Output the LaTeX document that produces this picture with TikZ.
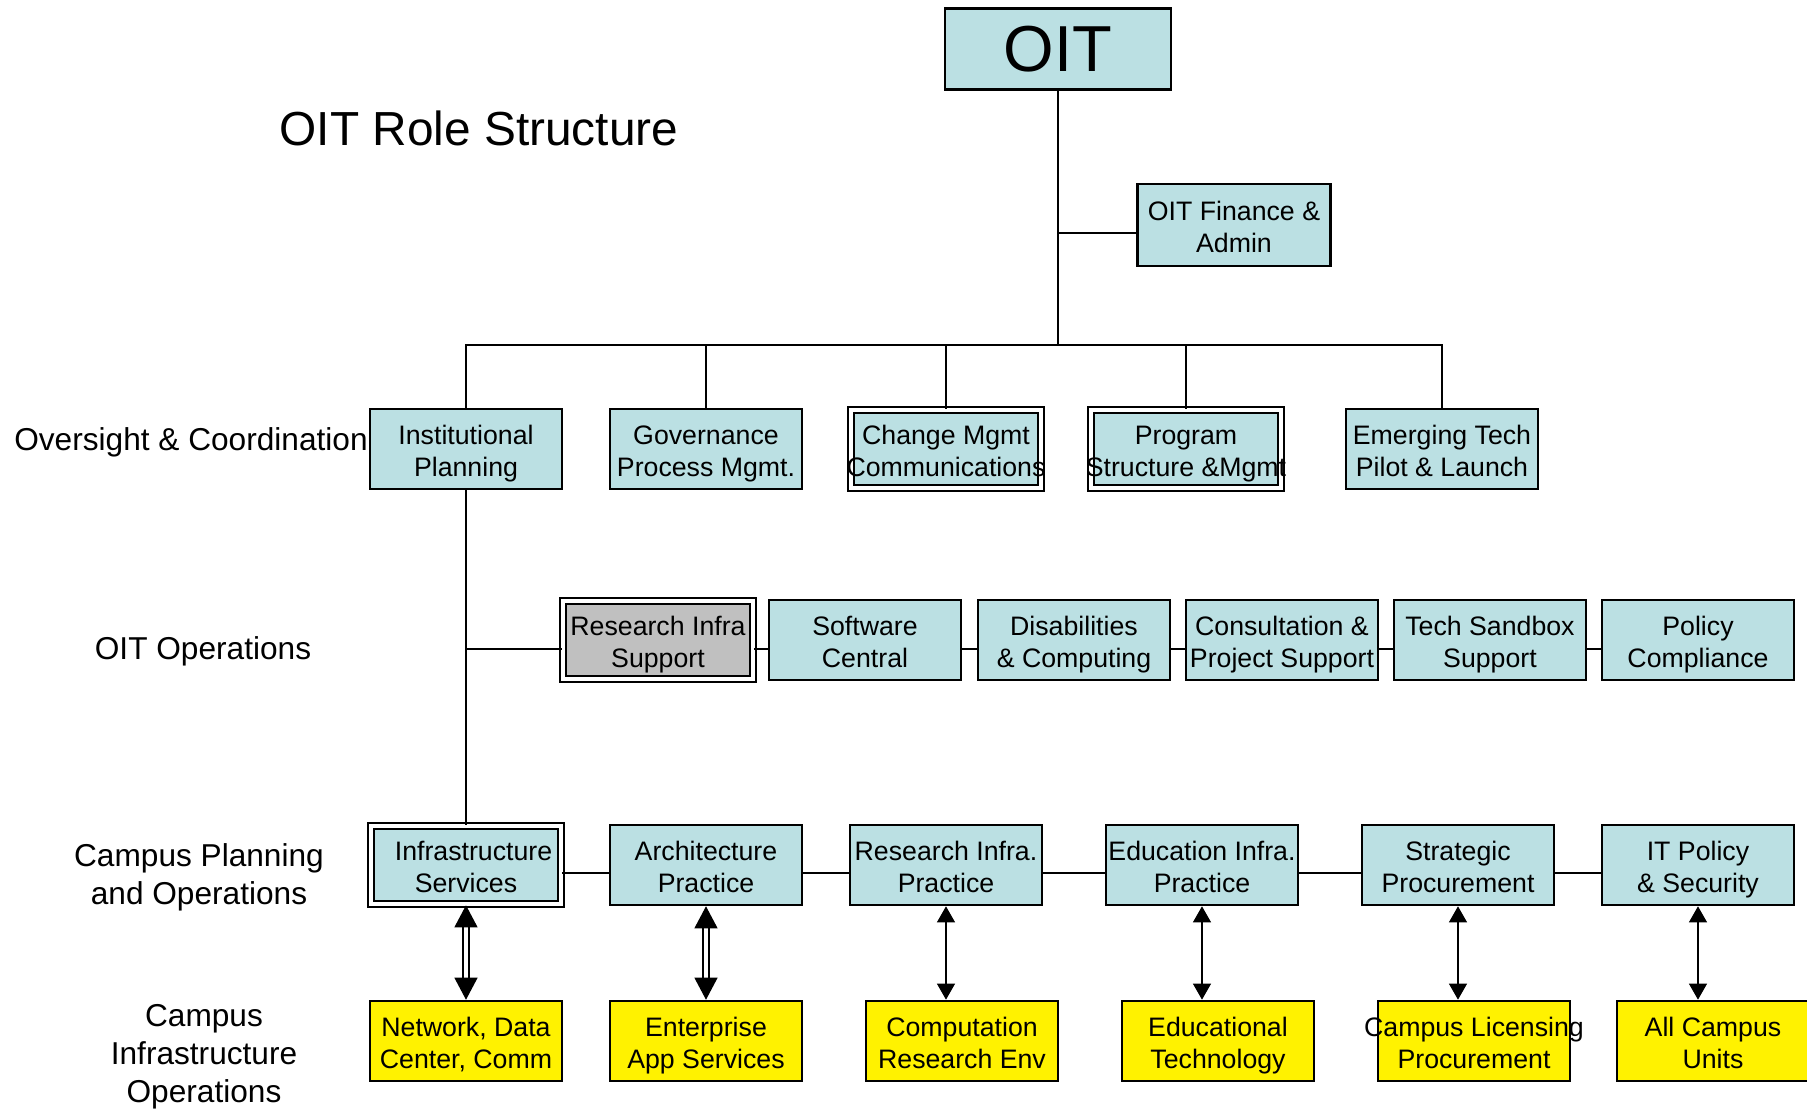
\documentclass[tikz,border=0pt]{standalone}
\usepackage{fontspec}
\setmainfont{Liberation Sans}
\usetikzlibrary{arrows.meta}
\definecolor{oitblue}{RGB}{187,224,227}
\definecolor{oitgray}{RGB}{192,192,192}
\begin{document}
\begin{tikzpicture}[x=0.1mm,y=-0.1mm,line width=0.7pt,
  top node/.style={draw,fill=oitblue,minimum width=2.26cm,minimum height=0.81cm,inner sep=0pt,font=\fontsize{18.5}{20}\selectfont},
  role node/.style={draw,fill=oitblue,minimum width=1.92cm,minimum height=0.8cm,inner xsep=-0.5cm,inner ysep=0pt,align=center,font=\fontsize{7.6}{9.1}\selectfont,
    execute at begin node={\rule{0pt}{17.2pt}},execute at end node={\rule[-1.6pt]{0pt}{0pt}}},
  double node/.style={role node,double=white,double distance=0.9pt,minimum width=1.9cm,minimum height=0.78cm},
  unit node/.style={role node,fill=yellow},
  level label/.style={align=center,font=\fontsize{9}{10.8}\selectfont},
  thin arrow/.style={{Triangle[width=5pt,length=4.6pt]}-{Triangle[width=5pt,length=4.6pt]},line width=0.8pt},
  thick arrow/.style={{Triangle[width=6.5pt,length=6.3pt]}-{Triangle[width=6.5pt,length=6.3pt]},line width=0.6pt,double=white,double distance=0.9pt}]

  \useasboundingbox (0,0) rectangle (1807,1110);

  \node[font=\fontsize{13.6}{16}\selectfont] at (479,128) (title) {OIT Role Structure};

  \node[level label] at (191,442) (lvl1) {Oversight \& Coordination};
  \node[level label] at (203,651) (lvl2) {OIT Operations};
  \node[level label] at (199,877) (lvl3) {Campus Planning\\and Operations};
  \node[level label] at (204,1057) (lvl4) {Campus\\Infrastructure\\Operations};

  \node[top node] at (1058,49) (oit) {OIT};
  \node[role node,minimum width=1.93cm,minimum height=0.82cm] at (1234,225) (fin) {OIT Finance \&\\Admin};

  \node[role node] at (466,449) (plan) {Institutional\\Planning};
  \node[role node] at (706,449) (gov) {Governance\\Process Mgmt.};
  \node[double node] at (946,449) (chg) {Change Mgmt\\Communications};
  \node[double node] at (1186,449) (prog) {Program\\Structure \&Mgmt};
  \node[role node] at (1442,449) (emerg) {Emerging Tech\\Pilot \& Launch};

  \node[double node,fill=oitgray] at (658,640) (rsup) {Research Infra\\Support};
  \node[role node] at (865,640) (soft) {Software\\Central};
  \node[role node] at (1074,640) (dis) {Disabilities\\\& Computing};
  \node[role node] at (1282,640) (cons) {Consultation \&\\Project Support};
  \node[role node] at (1490,640) (sand) {Tech Sandbox\\Support};
  \node[role node] at (1698,640) (pol) {Policy\\Compliance};

  \node[double node] at (466,865) (infra) {\hspace*{0.15cm}Infrastructure\\Services};
  \node[role node] at (706,865) (arch) {Architecture\\Practice};
  \node[role node] at (946,865) (rprac) {Research Infra.\\Practice};
  \node[role node] at (1202,865) (eprac) {Education Infra.\\Practice};
  \node[role node] at (1458,865) (strat) {Strategic\\Procurement};
  \node[role node] at (1698,865) (itpol) {IT Policy\\\& Security};

  \node[unit node] at (466,1041) (net) {Network, Data\\Center, Comm};
  \node[unit node] at (706,1041) (ent) {Enterprise\\App Services};
  \node[unit node] at (962,1041) (comp) {Computation\\Research Env};
  \node[unit node] at (1218,1041) (edtech) {Educational\\Technology};
  \node[unit node] at (1474,1041) (lic) {Campus Licensing\\Procurement};
  \node[unit node] at (1713,1041) (units) {All Campus\\Units};

  % tree
  \coordinate (bus) at (1058,345);
  \draw (oit) -- (bus);
  \draw ([yshift=-0.08cm]fin.west) -- ([yshift=-0.08cm]fin.west -| oit.south);
  \draw (plan.north) |- (bus) -| (emerg.north);
  \foreach \n in {gov,chg,prog}
    \draw (\n.north) -- (\n.north |- bus);
  \draw (plan) -- (infra);
  \draw ([yshift=-0.09cm]plan.south |- rsup) -- ([yshift=-0.09cm]rsup.west);

  % rows
  \foreach \a/\b/\s in {rsup/soft/0.09,soft/dis/0.09,dis/cons/0.09,cons/sand/0.09,sand/pol/0.09,
    infra/arch/0.08,arch/rprac/0.08,rprac/eprac/0.08,eprac/strat/0.08,strat/itpol/0.08}
    \draw ([yshift=-\s cm]\a.east) -- ([yshift=-\s cm]\b.west);

  % arrows
  \foreach \a/\b in {infra/net,arch/ent}
    \draw[thick arrow] (\a.south) -- (\a.south |- \b.north);
  \foreach \a/\b in {rprac/comp,eprac/edtech,strat/lic,itpol/units}
    \draw[thin arrow] (\a.south) -- (\a.south |- \b.north);
\end{tikzpicture}
\end{document}
